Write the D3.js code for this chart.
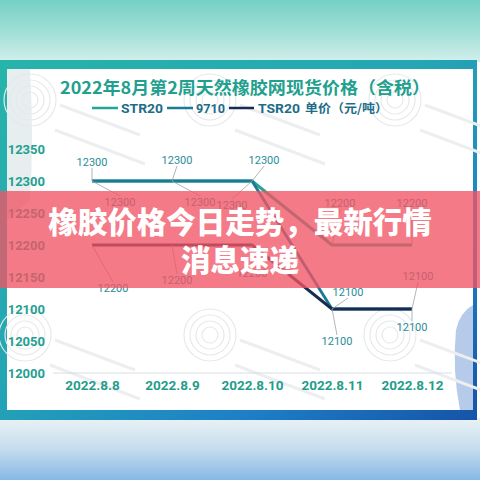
<!DOCTYPE html>
<html><head><meta charset="utf-8">
<script src="https://cdn.jsdelivr.net/npm/d3@7"></script>
<style>html,body{margin:0;padding:0;background:#fff;overflow:hidden}svg{display:block}</style>
</head><body><svg id="c" width="480" height="480"></svg>
<script>
// ---- data ----
const dates = ["2022.8.8","2022.8.9","2022.8.10","2022.8.11","2022.8.12"];
const seriesNames = ["STR20","9710","TSR20"];
const str20 = [12300,12300,12300,12200,12200];
const p9710 = [12300,12300,12300,12100,12100];
const tsr20 = [12200,12200,12200,12100,12100];
const yTicks = [12000,12050,12100,12150,12200,12250,12300,12350];
const titleText = "2022年8月第2周天然橡胶网现货价格（含税）";
const unitText = "单价（元/吨）";
const bannerLines = ["橡胶价格今日走势，最新行情","消息速递"];

// ---- drawing ----
const svg = d3.select("#c");
const defs = svg.append("defs");
function lg(id, x1,y1,x2,y2, stops){
  const g = defs.append("linearGradient").attr("id",id)
    .attr("x1",x1).attr("y1",y1).attr("x2",x2).attr("y2",y2);
  stops.forEach(s=>g.append("stop").attr("offset",s[0]).attr("stop-color",s[1]));
}
lg("gTop","0","0","0","1",[[0,"#74d0c5"],[0.6,"#a9e2da"],[1,"#d3efeb"]]);
lg("gFrame","0","0","1","1",[[0,"#27b4aa"],[0.45,"#24a6b4"],[0.75,"#1d7fc8"],[1,"#1653a8"]]);
lg("gBot","0","0","0","1",[[0,"#e9f2f4"],[0.5,"#c6dcee"],[1,"#86b8e6"]]);

svg.append("rect").attr("width",480).attr("height",62).attr("fill","url(#gTop)");
svg.append("rect").attr("y",418).attr("width",480).attr("height",62).attr("fill","url(#gBot)");
svg.append("rect").attr("x",0).attr("y",60).attr("width",477).attr("height",360).attr("fill","url(#gFrame)");
svg.append("rect").attr("x",7).attr("y",69).attr("width",466).attr("height",341).attr("fill","#ffffff");
// decorative shapes
svg.append("path").attr("d","M7,69 L30,69 Q34,140 30,200 L7,220 Z").attr("fill","#e6eef0");
svg.append("path").attr("d","M473,305 L473,410 L460,410 Q452,370 456,330 Q460,312 473,305 Z").attr("fill","#b6cbea");

// faint watermark logos
const wm = svg.append("g").attr("fill","none").attr("stroke","#e6e9eb").attr("stroke-width",1.2);
[[30,100],[210,100],[395,100],[25,335],[210,335],[390,335]].forEach(c=>{
  [26,20,14,8].forEach(r=>wm.append("circle").attr("cx",c[0]).attr("cy",c[1]).attr("r",r));
  wm.append("path").attr("d",`M${c[0]+30},${c[1]+5} l80,30 M${c[0]+25},${c[1]+30} l90,34`)
    .attr("stroke-width",3).attr("stroke","#eceef0");
});

const x = d3.scalePoint().domain(dates).range([92,412]);
const y = d3.scaleLinear().domain([12000,12350]).range([373,149]);

// title
svg.append("text").attr("x",245).attr("y",94).attr("text-anchor","middle")
  .attr("font-family","'Noto Sans CJK SC',sans-serif").attr("font-weight",700)
  .attr("font-size",17).attr("fill","#22a08e")
  .attr("textLength",370).attr("lengthAdjust","spacingAndGlyphs").text(titleText);

// legend
const colors = {"STR20":"#23a596","9710":"#1c7a96","TSR20":"#172c50"};
const legX = [[92,118,121],[167,193,196],[229,254,258]];
const legW = [42,29,42];
seriesNames.forEach((n,i)=>{
  svg.append("line").attr("x1",legX[i][0]).attr("x2",legX[i][1]).attr("y1",108).attr("y2",108)
    .attr("stroke",colors[n]).attr("stroke-width",2.5);
  svg.append("text").attr("x",legX[i][2]).attr("y",113).attr("font-family","Roboto,sans-serif")
    .attr("font-weight",700).attr("font-size",13).attr("fill","#1d6c88")
    .attr("textLength",legW[i]).attr("lengthAdjust","spacingAndGlyphs").text(n);
});
svg.append("text").attr("x",305).attr("y",113).attr("font-family","'Noto Sans CJK SC',sans-serif")
  .attr("font-weight",700).attr("font-size",12).attr("fill","#1d6c88")
  .attr("textLength",83).attr("lengthAdjust","spacingAndGlyphs").text(unitText);

// y axis
const yAxis = d3.axisLeft(y).tickValues(yTicks).tickSize(0).tickPadding(0).tickFormat(d3.format("d"));
const yg = svg.append("g").attr("transform","translate(45,0)").call(yAxis);
yg.select(".domain").remove();
yg.selectAll("text").attr("font-family","Roboto,sans-serif").attr("font-weight",700)
  .attr("font-size",13).attr("fill","#24a090").attr("dy","0.35em");

// baseline
svg.append("line").attr("x1",53).attr("x2",452).attr("y1",y(12000)).attr("y2",y(12000))
  .attr("stroke","#d9dee2").attr("stroke-width",1);

// x axis
const xAxis = d3.axisBottom(x).tickSize(0).tickPadding(0);
const xg = svg.append("g").attr("transform","translate(0,385)").call(xAxis);
xg.select(".domain").remove();
xg.selectAll("text").attr("font-family","Roboto,sans-serif").attr("font-weight",700)
  .attr("font-size",13.5).attr("fill","#1f9d8c").attr("dy","0.35em");

// lines
const seriesData = {"STR20":str20,"9710":p9710,"TSR20":tsr20};
const line = d3.line().x((d,i)=>x(dates[i])).y(d=>y(d));
seriesNames.forEach(n=>{
  svg.append("path").datum(seriesData[n]).attr("d",line).attr("fill","none")
    .attr("stroke",colors[n]).attr("stroke-width",2.9).attr("stroke-linejoin","round");
});

// data labels with leader lines
const labelOff = {
  "9710": [[0,-19],[5,-21],[12,-21],[16,-17],[6,-33]],
  "STR20":[[28,21],[28,21],[-20,24],[8,-42],[0,-42]],
  "TSR20":[[21,43],[5,35],[0,28],[5,32],[0,18]]
};
const labelG = svg.append("g");
["STR20","9710","TSR20"].forEach(n=>{
  seriesData[n].forEach((v,i)=>{
    const px = x(dates[i]), py = y(v);
    const o = labelOff[n][i];
    const lx = px+o[0], ly = py+o[1];
    const ey = o[1]<0 ? ly+6 : ly-6;
    labelG.append("line").attr("x1",px).attr("y1",py).attr("x2",lx).attr("y2",ey)
      .attr("stroke","#9aa3a8").attr("stroke-width",0.8);
    labelG.append("text").attr("x",lx).attr("y",ly).attr("dy","0.35em").attr("text-anchor","middle")
      .attr("font-family","Roboto,sans-serif").attr("font-size",11).attr("fill","#2b8c98")
      .text(d3.format("d")(v));
  });
});

// banner overlay
svg.append("rect").attr("x",0).attr("y",191).attr("width",480).attr("height",97)
  .attr("fill","rgba(240,84,100,0.78)");
const bf = svg.append("g").attr("font-family","'Noto Sans CJK SC',sans-serif").attr("font-weight",900)
  .attr("fill","#ffffff").attr("text-anchor","middle");
bf.append("text").attr("x",240).attr("y",233).attr("font-size",29.5).text(bannerLines[0]);
bf.append("text").attr("x",240).attr("y",271).attr("font-size",29.5).text(bannerLines[1]);
</script></body></html>
